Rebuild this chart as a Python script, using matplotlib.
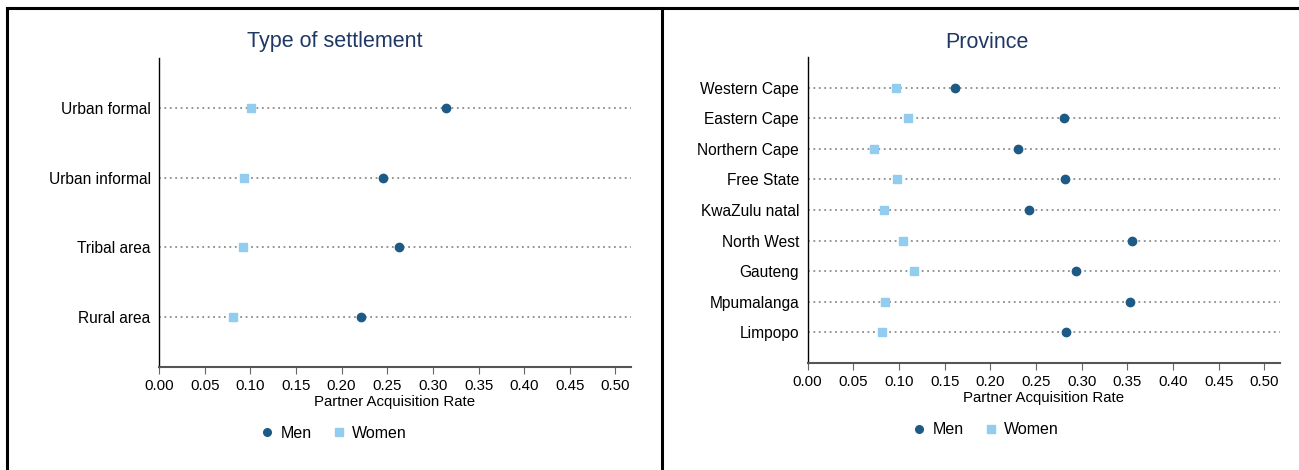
import matplotlib
matplotlib.use("Agg")
import matplotlib.pyplot as plt
from matplotlib.lines import Line2D

plt.rcParams['font.family'] = ['Liberation Sans', 'DejaVu Sans']

# Partner acquisition rate by type of settlement
settlements = ["Urban formal", "Urban informal", "Tribal area", "Rural area"]
settle_men = [0.314, 0.245, 0.263, 0.221]
settle_women = [0.101, 0.093, 0.092, 0.081]

# Partner acquisition rate by province
provinces = ["Western Cape", "Eastern Cape", "Northern Cape", "Free State",
             "KwaZulu natal", "North West", "Gauteng", "Mpumalanga", "Limpopo"]
prov_men = [0.161, 0.281, 0.230, 0.282, 0.242, 0.355, 0.294, 0.353, 0.283]
prov_women = [0.097, 0.110, 0.073, 0.098, 0.084, 0.105, 0.117, 0.085, 0.082]

xticks = [0.00, 0.05, 0.10, 0.15, 0.20, 0.25, 0.30, 0.35, 0.40, 0.45, 0.50]

MEN = "#1d5a85"
WOMEN = "#92cdf0"
TITLE = "#1f3864"

W, H = 1299, 470
fig = plt.figure(figsize=(W / 100, H / 100), dpi=100)


def px(x0, y0, x1, y1):
    return [x0 / W, 1 - y1 / H, (x1 - x0) / W, (y1 - y0) / H]


def dot_panel(rect, cats, men, women, margin):
    ax = fig.add_axes(rect)
    pos = list(range(1, len(cats) + 1))
    for p in pos:
        ax.axhline(p, color="#8c8c8c", lw=1.3, ls=(0, (1, 2.0)), zorder=1)
    ax.plot(women, pos, ls="none", marker="s", ms=6, color=WOMEN, zorder=3)
    ax.plot(men, pos, ls="none", marker="o", ms=6, color=MEN, zorder=4)
    ax.set_xlim(0, 0.517)
    ax.set_ylim(len(cats) + margin, 1 - margin)
    ax.set_yticks(pos)
    ax.set_yticklabels(cats, fontsize=11.2)
    ax.tick_params(axis="y", length=0, pad=6)
    ax.set_xticks(xticks)
    ax.set_xticklabels([f"{t:.2f}" for t in xticks], fontsize=10.8)
    ax.tick_params(axis="x", length=5, width=0.8, color="#666666", pad=4)
    for s in ("top", "right"):
        ax.spines[s].set_visible(False)
    ax.spines["left"].set_color("black")
    ax.spines["left"].set_linewidth(1.0)
    ax.spines["bottom"].set_color("#555555")
    ax.spines["bottom"].set_linewidth(1.5)
    ax.set_xlabel("Partner Acquisition Rate", fontsize=10.8, labelpad=1)
    return ax


dot_panel(px(159, 58, 631, 367), settlements, settle_men, settle_women, 0.72)
dot_panel(px(807.5, 57, 1280, 363), provinces, prov_men, prov_women, 1.0)

fig.text(335 / W, 1 - 42 / H, "Type of settlement", ha="center", va="center",
         fontsize=15.5, color=TITLE)
fig.text(987 / W, 1 - 42 / H, "Province", ha="center", va="center",
         fontsize=15.5, color=TITLE)

handles = [
    Line2D([], [], ls="none", marker="o", ms=5.5, color=MEN, label="Men"),
    Line2D([], [], ls="none", marker="s", ms=5.5, color=WOMEN, label="Women"),
]
for cx, cy in ((333, 433), (985, 430)):
    fig.legend(handles=handles, loc="center", bbox_to_anchor=(cx / W, 1 - cy / H),
               ncol=2, frameon=False, fontsize=11.5, handlelength=1,
               handletextpad=0.35, columnspacing=1.2)

# Panel frames
fig.add_artist(Line2D([7 / W, 1], [1 - 7.5 / H, 1 - 7.5 / H], color="black", lw=2.2))
fig.add_artist(Line2D([7 / W, 7 / W], [0, 1 - 7.5 / H], color="black", lw=2.2))
fig.add_artist(Line2D([662 / W, 662 / W], [0, 1 - 7.5 / H], color="black", lw=2.2))

fig.savefig("out.png", dpi=100, facecolor="white")
